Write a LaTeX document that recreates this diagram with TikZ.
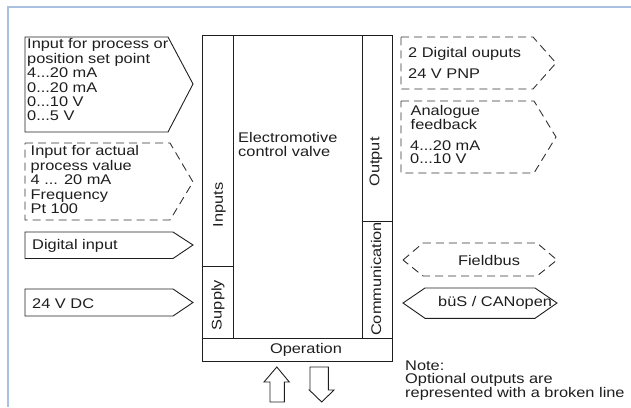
\documentclass[tikz,border=0pt]{standalone}
\usepackage{fontspec}
\setmainfont[FakeStretch=1.17]{Liberation Sans}
\usepackage{xcolor}
\usetikzlibrary{positioning}
\definecolor{framerule}{HTML}{A9C1E0}
\definecolor{solidedge}{HTML}{1E1E1E}
\definecolor{brokenedge}{HTML}{333333}

\tikzset{
  solidtag/.style={draw=solidedge, line width=0.9pt, line join=miter},
  brokentag/.style={draw=brokenedge, line width=0.9pt, dash pattern=on 8pt off 5pt},
  tagtext/.style={anchor=north west, inner sep=0pt, align=left, text=solidedge},
  linetext/.style={anchor=base west, inner sep=0pt, text=solidedge},
  celltext/.style={inner sep=0pt, text=solidedge},
}

\begin{document}
\begin{tikzpicture}[x=1pt, y=-1pt, font=\fontsize{14}{14}\selectfont]
  \useasboundingbox (0,0) rectangle (631,407);
  \draw[framerule, line width=2pt] (7.5,407) -- (7.5,6.5) -- (631,6.5);

  % valve block
  \draw[solidtag] (202,35) rectangle (392,361);
  \draw[solidtag] (233,35) -- (233,338) (362,35) -- (362,338);
  \draw[solidtag] (202,338) -- (392,338);
  \draw[solidtag] (202,266) -- (233,266) (362,221) -- (392,221);

  \node[tagtext] (valvename) at (238,132.5) {Electromotive\\control valve};
  \node[celltext, rotate=90] (inputs) at (219.5,205) {Inputs};
  \node[celltext, rotate=90] (supply) at (218,305) {Supply};
  \node[celltext, rotate=90] (output) at (376,162) {Output};
  \node[celltext, rotate=90] (comm) at (376,279) {Communication};
  \node[celltext] (operation) at (306,350) {Operation};

  % operation arrows
  \draw[solidtag] (270,402) -- (270,382) -- (264,382) -- (276.8,367) -- (289.3,382)
    -- (284.3,382) -- (284.3,402) -- cycle;
  \draw[solidtag] (310,367) -- (328.3,367) -- (328.3,390) -- (334,390) -- (321.7,402)
    -- (309.3,390) -- (310,390) -- cycle;

  % inputs, left side
  \draw[solidtag] (25,37) -- (168,37) -- (193,84) -- (168,132) -- (25,132) -- cycle;
  \node[tagtext, font=\fontsize{14}{14.4}\selectfont] (setpoint) at (27,38.5)
    {Input for process or\\position set point\\4...20 mA\\0...20 mA\\0...10 V\\0...5 V};

  \draw[brokentag] (25,143) -- (170,143) -- (193,182) -- (170,220) -- (25,220) -- cycle;
  \node[tagtext, font=\fontsize{14}{14.5}\selectfont] (actual) at (30.5,145.5)
    {Input for actual\\process value\\4 ... 20 mA\\Frequency\\Pt 100};

  \draw[solidtag] (25,232) -- (173,232) -- (193,245) -- (173,258.5) -- (25,258.5) -- cycle;
  \node[linetext] (digin) at (32,249) {Digital input};

  \draw[solidtag] (25,289) -- (173,289) -- (193,302.5) -- (173,316) -- (25,316) -- cycle;
  \node[linetext] (dcsupply) at (32,308.3) {24 V DC};

  % outputs, right side
  \draw[brokentag] (401,37) -- (533,37) -- (556,63) -- (533,89) -- (401,89) -- cycle;
  \node[tagtext] (digout) at (408,46.7) {2 Digital ouputs};
  \node[tagtext] (pnp) at (408,68.3) {24 V PNP};

  \draw[brokentag] (401,101) -- (534,101) -- (556,137) -- (534,173) -- (401,173) -- cycle;
  \node[tagtext, font=\fontsize{14}{12.8}\selectfont] (analogue) at (410.5,105) {Analogue\\feedback};
  \node[tagtext, font=\fontsize{14}{13.3}\selectfont] (fbrange) at (410,140.7) {4...20 mA\\0...10 V};

  \draw[brokentag] (403,260) -- (423,243) -- (537,243) -- (557,260) -- (537,276)
    -- (423,276) -- cycle;
  \node[celltext] (fieldbus) at (489,260) {Fieldbus};

  \draw[solidtag] (403,303) -- (425,288) -- (535,288) -- (557,303) -- (535,318.3)
    -- (425,318.3) -- cycle;
  \node[celltext, anchor=west] (canopen) at (438,303) {büS / CANopen};

  \node[tagtext, font=\fontsize{14}{12.8}\selectfont] (note) at (405,361)
    {Note:\\Optional outputs are\\represented with a broken line};
\end{tikzpicture}
\end{document}
